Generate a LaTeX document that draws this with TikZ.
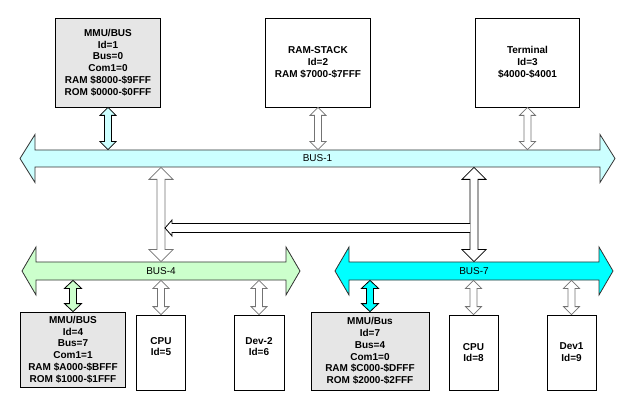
\documentclass[tikz,border=0pt]{standalone}
\usepackage{fontspec}
\setmainfont{Liberation Sans}
\usetikzlibrary{calc}

\definecolor{busone}{HTML}{CCFFFF}
\definecolor{busfour}{HTML}{CCFFCC}
\definecolor{busseven}{HTML}{00FFFF}
\definecolor{mmugray}{HTML}{E6E6E6}

% block arrow with a head at both ends:
% style, from, to, half shaft, half head, head length
\newcommand{\blockarrow}[6]{%
  \coordinate (arrA) at (#2);
  \coordinate (arrB) at (#3);
  \coordinate (arrA1) at ($(arrA)!#6!(arrB)$);
  \coordinate (arrB1) at ($(arrB)!#6!(arrA)$);
  \path[#1] (arrA) -- ($(arrA1)!#5!90:(arrB)$) -- ($(arrA1)!#4!90:(arrB)$)
    -- ($(arrB1)!#4!-90:(arrA)$) -- ($(arrB1)!#5!-90:(arrA)$) -- (arrB)
    -- ($(arrB1)!#5!90:(arrA)$) -- ($(arrB1)!#4!90:(arrA)$)
    -- ($(arrA1)!#4!-90:(arrB)$) -- ($(arrA1)!#5!-90:(arrB)$) -- cycle;}

\begin{document}
\begin{tikzpicture}[x = 1pt, y = -1pt, line width = 0.8pt, font = \fontsize{10}{11.8}\selectfont]
  \tikzstyle{unit} = [draw, align = center, inner sep = 0pt, font = \fontsize{10}{11.8}\selectfont\bfseries]
  \tikzstyle{mmu} = [unit, fill = mmugray]
  \tikzstyle{bus label} = [inner sep = 0pt]
  \tikzstyle{bus edge} = [draw = black!80]
  \tikzstyle{link} = [draw = black!55, fill = white]
  \tikzstyle{mmu link} = [draw = black]
  \useasboundingbox (0,0) rectangle (624,406);

  % top units
  \node[mmu, minimum width = 105pt, minimum height = 89pt] (mmu1) at (108,62.5)
    {MMU/BUS\\Id=1\\Bus=0\\Com1=0\\RAM \$8000-\$9FFF\\ROM \$0000-\$0FFF};
  \node[unit, minimum width = 105pt, minimum height = 89pt] (ram) at (318,62.5)
    {RAM-STACK\\Id=2\\RAM \$7000-\$7FFF};
  \node[unit, minimum width = 104pt, minimum height = 89pt] (term) at (527.5,62.5)
    {Terminal\\Id=3\\\$4000-\$4001};

  % buses
  \blockarrow{bus edge, fill = busone}{20,158.5}{615,158.5}{8.5pt}{24pt}{15pt}
  \node[bus label, minimum height = 17pt] (bus1) at (317.5,158.5) {BUS-1};
  \blockarrow{bus edge, fill = busfour}{22,271}{300,271}{9pt}{24pt}{14pt}
  \node[bus label, minimum height = 18pt] (bus4) at (161,271) {BUS-4};
  \blockarrow{bus edge, fill = busseven}{335,271}{613,271}{9pt}{24pt}{14pt}
  \node[bus label, minimum height = 18pt] (bus7) at (474,271) {BUS-7};

  % bottom units
  \node[mmu, minimum width = 105pt, minimum height = 75pt] (mmu4) at (73,349.5)
    {MMU/BUS\\Id=4\\Bus=7\\Com1=1\\RAM \$A000-\$BFFF\\ROM \$1000-\$1FFF};
  \node[unit, minimum width = 49pt, minimum height = 75pt] (cpu5) at (161,352.5)
    {CPU\\Id=5\\\mbox{}};
  \node[unit, minimum width = 50pt, minimum height = 75pt] (dev2) at (259,352.5)
    {Dev-2\\Id=6\\\mbox{}};
  \node[mmu, minimum width = 118pt, minimum height = 78pt] (mmu7) at (370,351)
    {MMU/Bus\\Id=7\\Bus=4\\Com1=0\\RAM \$C000-\$DFFF\\ROM \$2000-\$2FFF};
  \node[unit, minimum width = 49pt, minimum height = 75pt] (cpu8) at (473.5,352.5)
    {CPU\\Id=8};
  \node[unit, minimum width = 49pt, minimum height = 75pt] (dev1) at (571.5,352.5)
    {Dev1\\Id=9};

  % links to BUS-1
  \blockarrow{mmu link, fill = busone}{mmu1.south}{mmu1.south |- bus1.north}{3.5pt}{8pt}{8pt}
  \blockarrow{link}{ram.south}{ram.south |- bus1.north}{3.5pt}{8pt}{8pt}
  \blockarrow{link}{term.south}{term.south |- bus1.north}{3.5pt}{8pt}{8pt}

  % bridges between the buses
  \blockarrow{link}{bus4.north |- bus1.south}{bus4.north}{4pt}{12pt}{12pt}
  \blockarrow{link, draw = black}{bus7.north |- bus1.south}{bus7.north}{4pt}{12pt}{12pt}
  \coordinate (tee) at ($(bus7.north |- 0,228)+(-4,0)$);
  \coordinate (teetip) at ($(bus4.north |- tee)+(4,0)$);
  \path[draw = black, fill = white] ($(tee)+(0,-4.5)$) -- ($(teetip)+(7,-4.5)$)
    -- ($(teetip)+(7,-8)$) -- (teetip) -- ($(teetip)+(7,8)$)
    -- ($(teetip)+(7,4.5)$) -- ($(tee)+(0,4.5)$);

  % links from BUS-4 and BUS-7
  \blockarrow{mmu link, fill = busfour}{mmu4.north |- bus4.south}{mmu4.north}{3.5pt}{8.5pt}{8pt}
  \blockarrow{link}{cpu5.north |- bus4.south}{cpu5.north}{3.5pt}{8pt}{8pt}
  \blockarrow{link}{dev2.north |- bus4.south}{dev2.north}{3.5pt}{8pt}{8pt}
  \blockarrow{mmu link, fill = busseven}{mmu7.north |- bus7.south}{mmu7.north}{3.5pt}{8.5pt}{8pt}
  \blockarrow{link}{cpu8.north |- bus7.south}{cpu8.north}{3.5pt}{8pt}{8pt}
  \blockarrow{link}{dev1.north |- bus7.south}{dev1.north}{3.5pt}{8pt}{8pt}
\end{tikzpicture}
\end{document}
